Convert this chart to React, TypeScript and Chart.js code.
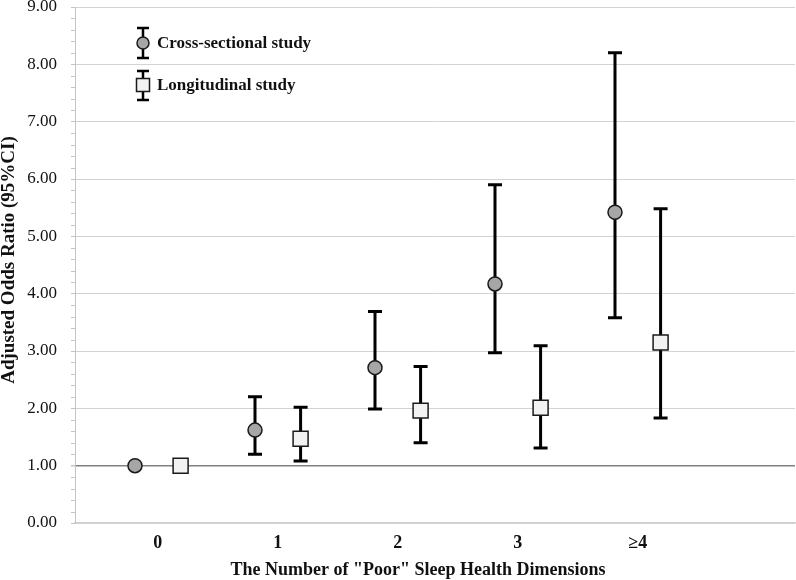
import React, { useEffect, useRef } from 'react';
import { Chart, registerables } from 'chart.js';

Chart.register(...registerables);

// ---- data ----
const categories = ['0', '1', '2', '3', '≥4'];
const crossOR = [1.0, 1.62, 2.71, 4.17, 5.42];
const crossLow = [null, 1.2, 1.99, 2.97, 3.58];
const crossHigh = [null, 2.2, 3.69, 5.9, 8.2];
const longOR = [1.0, 1.47, 1.96, 2.01, 3.15];
const longLow = [null, 1.08, 1.4, 1.31, 1.83];
const longHigh = [null, 2.02, 2.73, 3.09, 5.48];
const seriesNames = ['Cross-sectional study', 'Longitudinal study'];
const yTitle = 'Adjusted Odds Ratio (95%CI)';
const xTitle = 'The Number of "Poor" Sleep Health Dimensions';

const FONT = '"Liberation Serif", "Times New Roman", serif';
const TEXT = '#111111';
const GROUP_OFFSET = 0.19;

function buildPoints(vals: number[], lo: (number | null)[], hi: (number | null)[], off: number) {
  return vals.map((v, i) => ({ x: i + off, y: v, lo: lo[i], hi: hi[i] }));
}

export default function App() {
  const ref = useRef<HTMLCanvasElement>(null);

  useEffect(() => {
    if (!ref.current) return;

    const errorBars = {
      id: 'errorBars',
      beforeDatasetsDraw(chart: any) {
        const { ctx, scales } = chart;
        const x = scales.x, y = scales.y;
        ctx.save();
        ctx.strokeStyle = '#000';
        ctx.lineWidth = 3;
        ctx.lineCap = 'butt';
        chart.data.datasets.forEach((ds: any) => {
          ds.data.forEach((p: any) => {
            if (p.lo == null || p.hi == null) return;
            const px = x.getPixelForValue(p.x);
            const yl = y.getPixelForValue(p.lo);
            const yh = y.getPixelForValue(p.hi);
            ctx.beginPath();
            ctx.moveTo(px, yl);
            ctx.lineTo(px, yh);
            ctx.moveTo(px - 7, yl);
            ctx.lineTo(px + 7, yl);
            ctx.moveTo(px - 7, yh);
            ctx.lineTo(px + 7, yh);
            ctx.stroke();
          });
        });
        ctx.restore();
      },
    };

    const decorations = {
      id: 'decorations',
      afterDraw(chart: any) {
        const { ctx, chartArea, scales } = chart;
        const y = scales.y;
        ctx.save();
        // minor ticks on y axis
        ctx.strokeStyle = '#c4c4c4';
        ctx.lineWidth = 1;
        for (let k = 0; k <= 45; k++) {
          if (k % 5 === 0) continue;
          const py = Math.round(y.getPixelForValue(k / 5)) + 0.5;
          ctx.beginPath();
          ctx.moveTo(chartArea.left - 4, py);
          ctx.lineTo(chartArea.left, py);
          ctx.stroke();
        }

        // legend
        const lx = chartArea.left + 68;
        const rows = [
          { ds: 0, cy: chartArea.top + 36, t: chartArea.top + 21, b: chartArea.top + 51 },
          { ds: 1, cy: chartArea.top + 78, t: chartArea.top + 64, b: chartArea.top + 93 },
        ];
        rows.forEach((r) => {
          const ds = chart.data.datasets[r.ds];
          ctx.strokeStyle = '#000';
          ctx.lineWidth = 2.5;
          ctx.beginPath();
          ctx.moveTo(lx, r.t);
          ctx.lineTo(lx, r.b);
          ctx.moveTo(lx - 6, r.t);
          ctx.lineTo(lx + 6, r.t);
          ctx.moveTo(lx - 6, r.b);
          ctx.lineTo(lx + 6, r.b);
          ctx.stroke();
          ctx.fillStyle = ds.backgroundColor;
          ctx.strokeStyle = ds.borderColor;
          ctx.lineWidth = 1.5;
          ctx.beginPath();
          if (ds.pointStyle === 'rect') {
            ctx.rect(lx - 6.5, r.cy - 6.5, 13, 13);
          } else {
            ctx.arc(lx, r.cy, 6, 0, Math.PI * 2);
          }
          ctx.fill();
          ctx.stroke();
          ctx.fillStyle = TEXT;
          ctx.font = `bold 17px ${FONT}`;
          ctx.textAlign = 'left';
          ctx.textBaseline = 'middle';
          ctx.fillText(ds.label, lx + 14, r.cy + 1);
        });

        // x axis title
        ctx.fillStyle = TEXT;
        ctx.font = `bold 18px ${FONT}`;
        ctx.textAlign = 'center';
        ctx.textBaseline = 'middle';
        ctx.fillText(xTitle, (chartArea.left + chartArea.right) / 2 - 17, 570);

        // y axis title
        ctx.translate(9, 260);
        ctx.rotate(-Math.PI / 2);
        ctx.font = `bold 19px ${FONT}`;
        ctx.fillText(yTitle, 0, 0);
        ctx.restore();
      },
    };

    const chart = new Chart(ref.current, {
      type: 'scatter',
      data: {
        datasets: [
          {
            label: seriesNames[0],
            data: buildPoints(crossOR, crossLow, crossHigh, -GROUP_OFFSET) as any,
            pointStyle: 'circle',
            pointRadius: 7,
            pointHoverRadius: 7,
            backgroundColor: '#a6a6a6',
            borderColor: '#1a1a1a',
            pointBorderWidth: 1.5,
          },
          {
            label: seriesNames[1],
            data: buildPoints(longOR, longLow, longHigh, GROUP_OFFSET) as any,
            pointStyle: 'rect',
            pointRadius: 10.6,
            pointHoverRadius: 10.6,
            backgroundColor: '#f2f2f2',
            borderColor: '#1a1a1a',
            pointBorderWidth: 1.5,
          },
        ],
      },
      options: {
        animation: false,
        responsive: false,
        layout: { autoPadding: false, padding: { top: 7, right: 1, left: 0, bottom: 0 } },
        plugins: {
          legend: { display: false },
          tooltip: { enabled: false },
        },
        scales: {
          x: {
            type: 'linear',
            min: -0.69,
            max: 5.31,
            afterBuildTicks: (s: any) => {
              s.ticks = categories.map((_, i) => ({ value: i }));
            },
            ticks: {
              callback: (v: any) => categories[v as number] ?? '',
              autoSkip: false,
              maxRotation: 0,
              padding: 10,
              color: TEXT,
              font: { family: FONT, size: 18, weight: 'bold' },
            },
            grid: { display: false, drawTicks: false },
            border: { display: true, color: '#d0d0d0', width: 1.5 },
            afterFit: (s: any) => {
              s.height = 57;
              s.paddingLeft = 0;
              s.paddingRight = 0;
            },
          },
          y: {
            type: 'linear',
            min: 0,
            max: 9,
            ticks: {
              stepSize: 1,
              callback: (v: any) => Number(v).toFixed(2),
              padding: 14,
              color: TEXT,
              font: { family: FONT, size: 17 },
            },
            grid: {
              color: (c: any) => (c.tick && c.tick.value === 1 ? '#808080' : '#d3d3d3'),
              lineWidth: (c: any) => (c.tick && c.tick.value === 1 ? 1.5 : 1),
              tickColor: '#c4c4c4',
              tickLength: 4,
              drawTicks: true,
            },
            border: { display: true, color: '#c4c4c4', width: 1 },
            title: { display: false },
            afterFit: (s: any) => {
              s.width = 75;
              s.paddingTop = 0;
              s.paddingBottom = 0;
            },
          },
        },
      } as any,
      plugins: [errorBars, decorations],
    });

    return () => chart.destroy();
  }, []);

  return (
    <div style={{ position: 'absolute', left: 0, top: 0, width: 796, height: 580, background: '#fff' }}>
      <canvas ref={ref} width={796} height={580} style={{ display: 'block' }} />
    </div>
  );
}
